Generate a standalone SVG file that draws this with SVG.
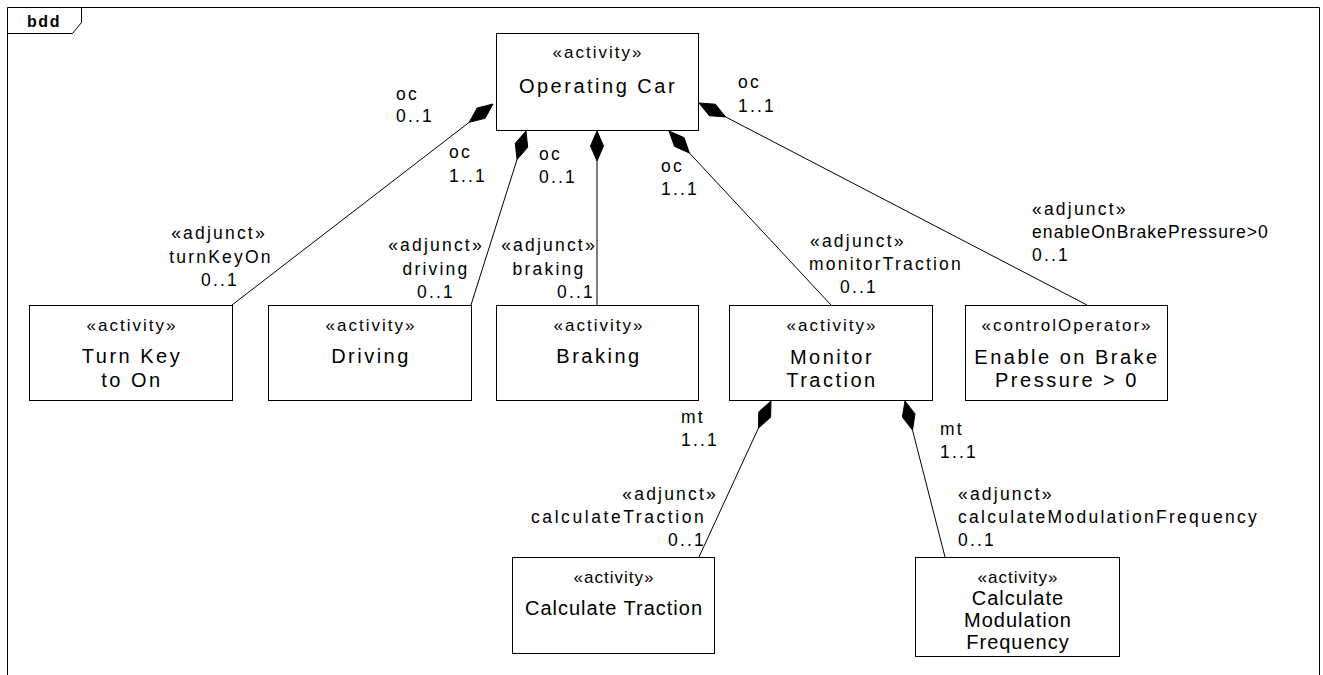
<svg xmlns="http://www.w3.org/2000/svg" width="1323" height="675" viewBox="0 0 1323 675">
<style>
.frame{fill:none;stroke:#000;stroke-width:1}
.box{fill:#fff;stroke:#000;stroke-width:1}
.st{font-family:"Liberation Sans",Arial,sans-serif;font-size:17px;letter-spacing:2px;text-anchor:middle;fill:#000}
.nm{font-family:"Liberation Sans",Arial,sans-serif;font-size:20px;letter-spacing:2.5px;text-anchor:middle;fill:#000}
.nm2{font-family:"Liberation Sans",Arial,sans-serif;font-size:20px;letter-spacing:1px;text-anchor:middle;fill:#000}
.st2{font-family:"Liberation Sans",Arial,sans-serif;font-size:17px;letter-spacing:1px;text-anchor:middle;fill:#000}
.lb{font-family:"Liberation Sans",Arial,sans-serif;font-size:17.5px;letter-spacing:2.2px;fill:#000}
.line{fill:none;stroke:#000;stroke-width:1}
.dia{fill:#000;stroke:#000;stroke-width:1}
</style>
<rect x="0" y="0" width="1323" height="675" fill="#fff"/>
<g id="frame">
<path class="frame" d="M7.5,675 V7.5 H1319.5 V675"/>
<path class="frame" d="M7.5,33.5 H72.5 L81.5,22.5 V7.5"/>
<text x="44" y="27" font-family="'Liberation Sans',Arial,sans-serif" font-size="16" font-weight="bold" letter-spacing="1.5" text-anchor="middle">bdd</text>
</g>
<g id="connectors">
<polygon class="dia" points="493,104 477.2,108 469.2,122.3 485.1,118.3"/>
<line class="line" x1="469.2" y1="122.3" x2="232" y2="305"/>
<polygon class="dia" points="526,131 515.3,143.3 517,159.6 527.7,147.3"/>
<line class="line" x1="517" y1="159.6" x2="471" y2="305"/>
<polygon class="dia" points="597,131 590.5,146 597,161 603.5,146"/>
<line class="line" x1="597" y1="161" x2="597" y2="305"/>
<polygon class="dia" points="669,131 674.5,146.4 689.4,153 684,137.6"/>
<line class="line" x1="689.4" y1="153" x2="831" y2="305"/>
<polygon class="dia" points="699,103 709.3,115.7 725.6,116.9 715.3,104.2"/>
<line class="line" x1="725.6" y1="116.9" x2="1087" y2="305"/>
<polygon class="dia" points="771,401 758.8,411.9 758.4,428.2 770.6,417.3"/>
<line class="line" x1="758.4" y1="428.2" x2="699" y2="557"/>
<polygon class="dia" points="905,401 902.4,417.1 912.5,430.1 915,413.9"/>
<line class="line" x1="912.5" y1="430.1" x2="945" y2="557"/>
<text class="lb" x="396" y="100">oc</text><text class="lb" x="396" y="122">0..1</text>
<text class="lb" x="449" y="158">oc</text><text class="lb" x="449" y="182">1..1</text>
<text class="lb" x="539" y="160">oc</text><text class="lb" x="539" y="183">0..1</text>
<text class="lb" x="661" y="172">oc</text><text class="lb" x="661" y="195">1..1</text>
<text class="lb" x="738" y="88">oc</text><text class="lb" x="738" y="112">1..1</text>
<text class="lb" x="219" y="239" text-anchor="middle">«adjunct»</text>
<text class="lb" x="221" y="263" text-anchor="middle">turnKeyOn</text>
<text class="lb" x="220" y="286" text-anchor="middle">0..1</text>
<text class="lb" x="436" y="251" text-anchor="middle">«adjunct»</text>
<text class="lb" x="436" y="275" text-anchor="middle">driving</text>
<text class="lb" x="436" y="298" text-anchor="middle">0..1</text>
<text class="lb" x="549" y="251" text-anchor="middle">«adjunct»</text>
<text class="lb" x="549" y="275" text-anchor="middle">braking</text>
<text class="lb" x="576" y="298" text-anchor="middle">0..1</text>
<text class="lb" x="810" y="247">«adjunct»</text>
<text class="lb" x="809" y="270" textLength="154">monitorTraction</text>
<text class="lb" x="840" y="293">0..1</text>
<text class="lb" x="1032" y="215">«adjunct»</text>
<text class="lb" x="1032" y="238" textLength="238">enableOnBrakePressure&gt;0</text>
<text class="lb" x="1032" y="261">0..1</text>
<text class="lb" x="681" y="423">mt</text><text class="lb" x="681" y="446">1..1</text>
<text class="lb" x="940" y="435">mt</text><text class="lb" x="940" y="458">1..1</text>
<text class="lb" x="718" y="500" text-anchor="end">«adjunct»</text>
<text class="lb" x="531" y="523" textLength="175">calculateTraction</text>
<text class="lb" x="706" y="546" text-anchor="end">0..1</text>
<text class="lb" x="958" y="500">«adjunct»</text>
<text class="lb" x="958" y="523" textLength="301">calculateModulationFrequency</text>
<text class="lb" x="958" y="546">0..1</text>
</g>
<g id="operating-car">
<rect class="box" x="496.5" y="33.5" width="202" height="97"/>
<text class="st" x="598" y="58">«activity»</text>
<text class="nm" x="598" y="93">Operating Car</text>
</g>
<g id="turn-key">
<rect class="box" x="29.5" y="305.5" width="203" height="95"/>
<text class="st" x="132" y="331">«activity»</text>
<text class="nm" x="132" y="363">Turn Key</text>
<text class="nm" x="132" y="387">to On</text>
</g>
<g id="driving">
<rect class="box" x="268.5" y="305.5" width="203" height="95"/>
<text class="st" x="371" y="331">«activity»</text>
<text class="nm" x="371" y="363">Driving</text>
</g>
<g id="braking">
<rect class="box" x="496.5" y="305.5" width="202" height="95"/>
<text class="st" x="599" y="331">«activity»</text>
<text class="nm" x="599" y="363">Braking</text>
</g>
<g id="monitor-traction">
<rect class="box" x="729.5" y="305.5" width="203" height="95"/>
<text class="st" x="832" y="331">«activity»</text>
<text class="nm" x="832" y="364">Monitor</text>
<text class="nm" x="832" y="387">Traction</text>
</g>
<g id="enable-brake">
<rect class="box" x="965.5" y="305.5" width="202" height="95"/>
<text class="st" x="1067" y="331">«controlOperator»</text>
<text class="nm" x="1067" y="364">Enable on Brake</text>
<text class="nm" x="1067" y="387">Pressure &gt; 0</text>
</g>
<g id="calculate-traction">
<rect class="box" x="512.5" y="557.5" width="202" height="96"/>
<text class="st2" x="614" y="583">«activity»</text>
<text class="nm2" x="614" y="615">Calculate Traction</text>
</g>
<g id="calculate-modulation">
<rect class="box" x="915.5" y="557.5" width="204" height="99"/>
<text class="st2" x="1018" y="583">«activity»</text>
<text class="nm2" x="1018" y="605">Calculate</text>
<text class="nm2" x="1018" y="627">Modulation</text>
<text class="nm2" x="1018" y="649">Frequency</text>
</g>
</svg>
